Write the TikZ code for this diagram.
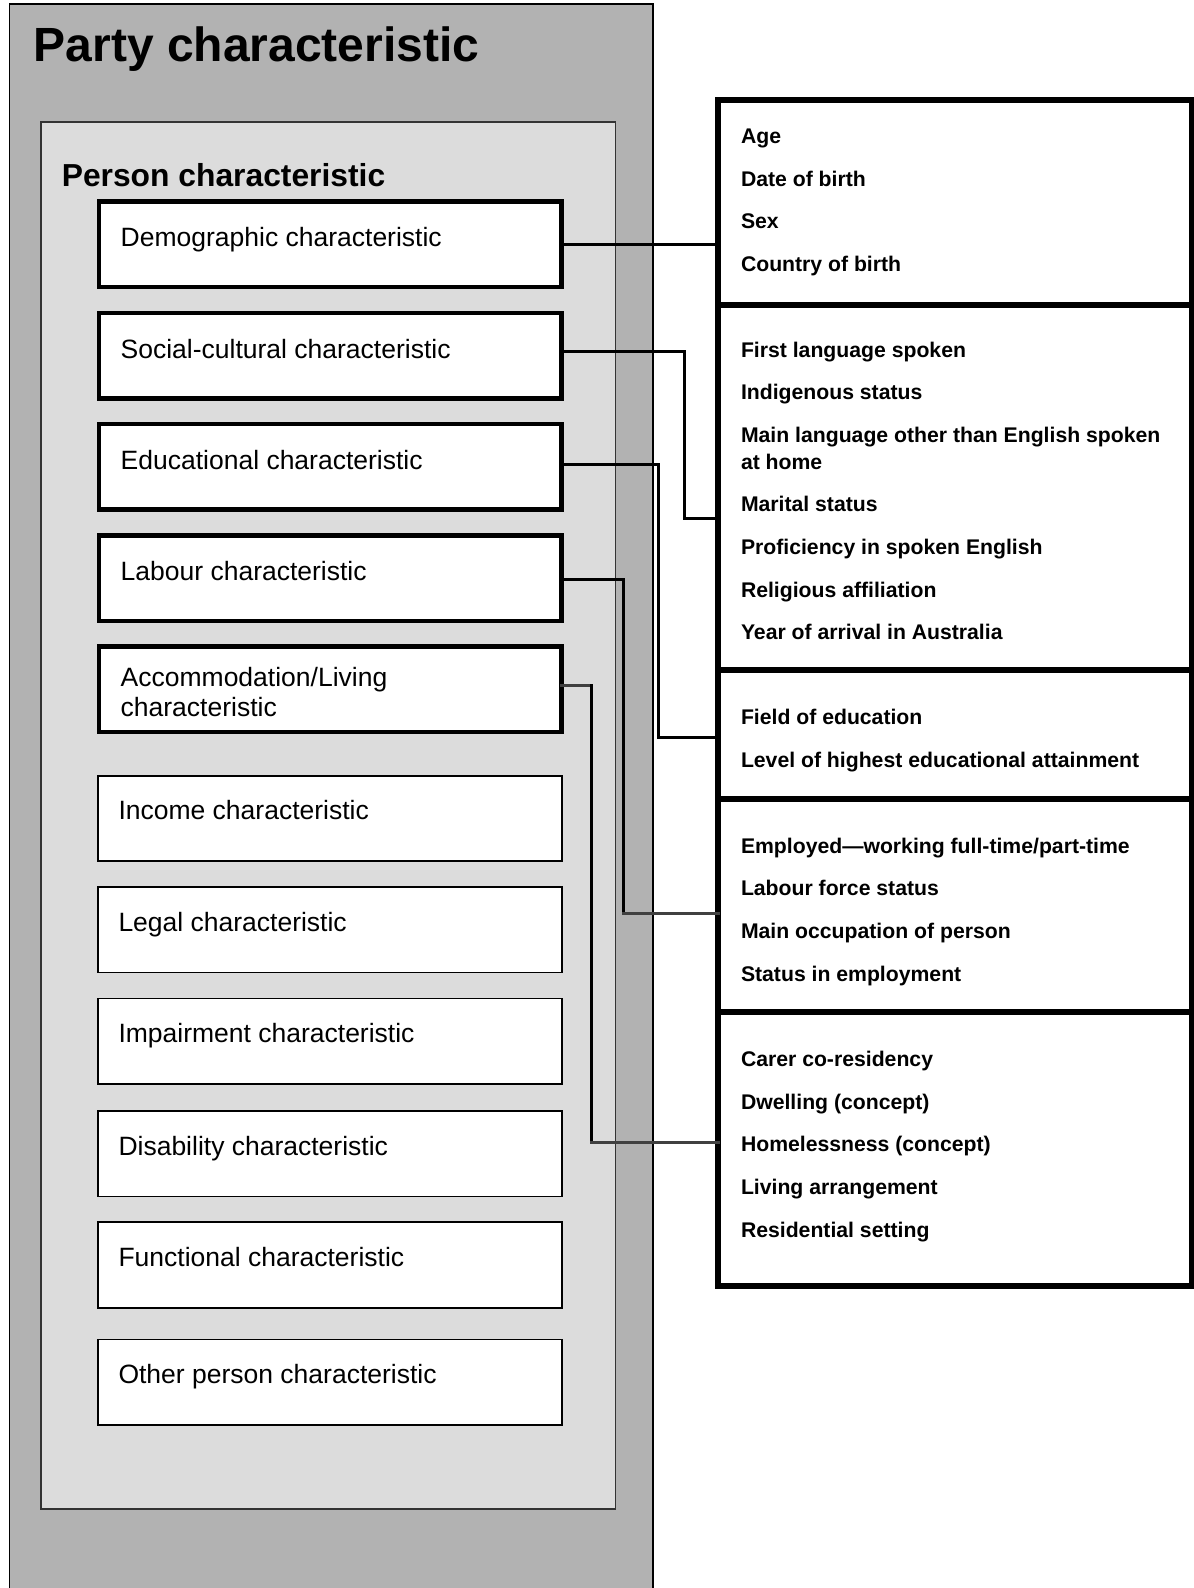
\documentclass[tikz,border=0pt]{standalone}
\usepackage{fontspec}
\setmainfont{Liberation Sans}
\definecolor{partyfill}{HTML}{B2B2B2}
\definecolor{personfill}{HTML}{DCDCDC}
\definecolor{linkgrey}{HTML}{404040}
\definecolor{edgegrey}{HTML}{333333}
\begin{document}
\begin{tikzpicture}[x=1pt,y=-1pt,
  thickbox/.style={rectangle,draw=black,line width=4.5pt,fill=white,outer sep=0pt,inner sep=0pt,
    minimum width=462.7pt,minimum height=85.5pt,anchor=north west},
  thinbox/.style={rectangle,draw=black,line width=1.8pt,fill=white,outer sep=0pt,inner sep=0pt,
    minimum width=464pt,minimum height=85.5pt,anchor=north west},
  boxtext/.style={anchor=base west,inner sep=0pt,outer sep=0pt,align=left,
    font=\fontsize{26.5}{30}\selectfont},
  listbox/.style={rectangle,draw=black,line width=5.5pt,fill=white,outer sep=0pt,inner sep=0pt,
    minimum width=473.5pt,anchor=north west},
  itemtext/.style={anchor=base west,inner sep=0pt,outer sep=0pt,align=left,
    font=\bfseries\fontsize{21.2}{27}\selectfont},
  link/.style={line width=3pt,draw=black,line cap=rect},
  greylink/.style={line width=3pt,draw=linkgrey,line cap=rect}
]
\useasboundingbox (0,0) rectangle (1194,1588);

% outer container, open at the bottom
\fill[partyfill] (9.3,4) rectangle (653,1588);
\draw[line width=1.5pt,black] (9.3,1592) -- (9.3,4) -- (653,4) -- (653,1592);
\node[anchor=base west,inner sep=0pt,font=\bfseries\fontsize{48}{50}\selectfont] (partytitle) at (33.5,61.7) {Party characteristic};

% inner container
\node[rectangle,draw=edgegrey,line width=1.5pt,fill=personfill,outer sep=0pt,inner sep=0pt,
  minimum width=574.5pt,minimum height=1387pt,anchor=north west] (person) at (41,122) {};
\node[anchor=base west,inner sep=0pt,font=\bfseries\fontsize{31.8}{34}\selectfont] (persontitle) at (61.6,186.7) {Person characteristic};

% characteristic boxes with detail lists
\node[thickbox] (demo) at (99,201.5) {};
\node[thickbox] (soc)  at (99,312.8) {};
\node[thickbox] (edu)  at (99,424) {};
\node[thickbox] (lab)  at (99,535.3) {};
\node[thickbox] (acc)  at (99,646.6) {};
\node[boxtext] (demot) at ([xshift=21.7pt,yshift=-45.2pt]demo.north west) {Demographic characteristic};
\node[boxtext] (soct)  at ([xshift=21.7pt,yshift=-45.2pt]soc.north west) {Social-cultural characteristic};
\node[boxtext] (edut)  at ([xshift=21.7pt,yshift=-45.2pt]edu.north west) {Educational characteristic};
\node[boxtext] (labt)  at ([xshift=21.7pt,yshift=-45.2pt]lab.north west) {Labour characteristic};
% a two-line node sits on the baseline of its last line
\node[boxtext] (acct)  at ([xshift=21.7pt,yshift=-69.4pt]acc.north west) {Accommodation/Living\\characteristic};

% characteristic boxes without lists
\node[thinbox] (inc)  at (98,775.7) {};
\node[thinbox] (leg)  at (98,887) {};
\node[thinbox] (imp)  at (98,998.5) {};
\node[thinbox] (dis)  at (98,1111) {};
\node[thinbox] (fun)  at (98,1222.3) {};
\node[thinbox] (oth)  at (98,1339.5) {};
\node[boxtext] (inct) at ([xshift=20.5pt,yshift=-44pt]inc.north west) {Income characteristic};
\node[boxtext] (legt) at ([xshift=20.5pt,yshift=-44pt]leg.north west) {Legal characteristic};
\node[boxtext] (impt) at ([xshift=20.5pt,yshift=-44pt]imp.north west) {Impairment characteristic};
\node[boxtext] (dist) at ([xshift=20.5pt,yshift=-44pt]dis.north west) {Disability characteristic};
\node[boxtext] (funt) at ([xshift=20.5pt,yshift=-44pt]fun.north west) {Functional characteristic};
\node[boxtext] (otht) at ([xshift=20.5pt,yshift=-44pt]oth.north west) {Other person characteristic};

% data element lists
\node[listbox,minimum height=205pt] (rb1) at (718,100) {};
\node[listbox,minimum height=365pt] (rb2) at (718,305) {};
\node[listbox,minimum height=129pt] (rb3) at (718,670) {};
\node[listbox,minimum height=213pt] (rb4) at (718,799) {};
\node[listbox,minimum height=274pt] (rb5) at (718,1012) {};

\node[itemtext] (i11) at (741,143) {Age};
\node[itemtext] (i12) at (741,186) {Date of birth};
\node[itemtext] (i13) at (741,228) {Sex};
\node[itemtext] (i14) at (741,271) {Country of birth};

\node[itemtext] (i21) at (741,357) {First language spoken};
\node[itemtext] (i22) at (741,399) {Indigenous status};
\node[itemtext] (i23) at (741,469) {Main language other than English spoken\\at home};
\node[itemtext] (i24) at (741,511) {Marital status};
\node[itemtext] (i25) at (741,554) {Proficiency in spoken English};
\node[itemtext] (i26) at (741,597) {Religious affiliation};
\node[itemtext] (i27) at (741,639) {Year of arrival in Australia};

\node[itemtext] (i31) at (741,724) {Field of education};
\node[itemtext] (i32) at (741,767) {Level of highest educational attainment};

\node[itemtext] (i41) at (741,853) {Employed—working full-time/part-time};
\node[itemtext] (i42) at (741,895) {Labour force status};
\node[itemtext] (i43) at (741,938) {Main occupation of person};
\node[itemtext] (i44) at (741,981) {Status in employment};

\node[itemtext] (i51) at (741,1066) {Carer co-residency};
\node[itemtext] (i52) at (741,1109) {Dwelling (concept)};
\node[itemtext] (i53) at (741,1151) {Homelessness (concept)};
\node[itemtext] (i54) at (741,1194) {Living arrangement};
\node[itemtext] (i55) at (741,1237) {Residential setting};

% connectors
\coordinate (socturn) at (684,518.5);
\coordinate (eduturn) at (658.5,737.5);
\coordinate (labturn) at (623,913);
\coordinate (acctop)  at (591.5,685);
\coordinate (accturn) at (591.5,1142);

\draw[link] (demo.east) -- (demo.east -| rb1.west);
\draw[link] ([yshift=4.5pt]soc.east) -| (socturn) -- (socturn -| rb2.west);
\draw[link] ([yshift=1.8pt]edu.east) -| (eduturn) -- (eduturn -| rb3.west);
\draw[link] ([yshift=-1pt]lab.east) -| (labturn);
\draw[greylink] (labturn) -- (labturn -| rb4.west);
\draw[greylink] ([yshift=4.35pt]acc.east) -- (acctop);
\draw[link] (acctop) -- (accturn);
\draw[greylink] (accturn) -- (accturn -| rb5.west);
\end{tikzpicture}
\end{document}
